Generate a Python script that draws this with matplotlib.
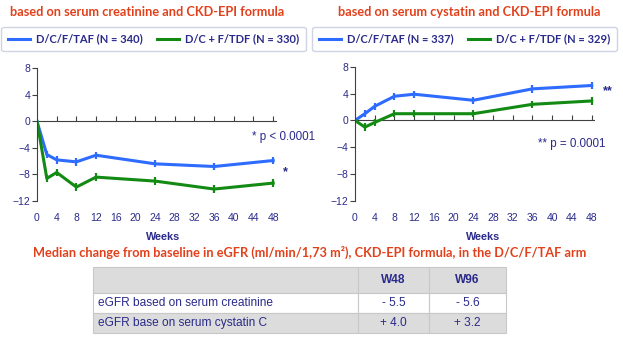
import matplotlib.pyplot as plt
from matplotlib.lines import Line2D

# data
weeks = [0, 2, 4, 8, 12, 24, 36, 48]
creat_taf = [0, -5.0, -5.8, -6.1, -5.1, -6.4, -6.8, -5.9]
creat_tdf = [0, -8.6, -7.7, -9.9, -8.4, -9.0, -10.2, -9.3]
cyst_taf = [0, 1.0, 2.1, 3.6, 3.9, 3.0, 4.7, 5.2]
cyst_tdf = [0, -1.0, -0.3, 1.0, 1.0, 1.0, 2.4, 2.9]
err = [0, 0.55, 0.55, 0.55, 0.55, 0.55, 0.55, 0.55]

xticks = list(range(0, 49, 4))
yticks = [-12, -8, -4, 0, 4, 8]

table_cols = ["", "W48", "W96"]
table_rows = [["eGFR based on serum creatinine", "- 5.5", "- 5.6"],
              ["eGFR base on serum cystatin C", "+ 4.0", "+ 3.2"]]

BLUE = "#2E6BFF"
GREEN = "#138A13"
NAVY = "#2A2A8A"
RED = "#E2401B"
W, H = 623, 337


def box(x0, y0, x1, y1):
    # pixel box (top-left origin) -> figure fraction rect
    return [x0 / W, 1 - y1 / H, (x1 - x0) / W, (y1 - y0) / H]


fig = plt.figure(figsize=(6.23, 3.37), dpi=100)
fig.patch.set_facecolor("white")


def panel(rect, taf, tdf):
    ax = fig.add_axes(rect)
    ax.errorbar(weeks, taf, yerr=err, color=BLUE, lw=2.2, elinewidth=1.6, capsize=0)
    ax.errorbar(weeks, tdf, yerr=err, color=GREEN, lw=2.2, elinewidth=1.6, capsize=0)
    ax.set_xlim(0, 48.7)
    ax.set_ylim(-12, 8)
    for s in ["top", "right", "bottom"]:
        ax.spines[s].set_visible(False)
    ax.spines["left"].set_color("#404040")
    ax.spines["left"].set_linewidth(0.8)
    ax.axhline(0, color="#404040", lw=0.8, zorder=0)
    ax.vlines(xticks[1:], 0, 0.75, color="#404040", lw=0.8, zorder=0)
    ax.set_yticks(yticks)
    ax.set_xticks(xticks)
    ax.tick_params(axis="y", length=3.5, width=0.8, color="#404040", labelsize=7.5,
                   labelcolor=NAVY, pad=1.5)
    ax.tick_params(axis="x", length=0, labelsize=7.5, labelcolor=NAVY, pad=8.5)
    for lab in ax.get_xticklabels() + ax.get_yticklabels():
        lab.set_family("Liberation Sans")
    return ax


ax1 = panel(box(37, 68.3, 37 + 48.7 * 4.92, 201), creat_taf, creat_tdf)
ax2 = panel(box(355, 66.7, 355 + 48.7 * 4.93, 201), cyst_taf, cyst_tdf)

# titles
fig.text(10 / W, 1 - 12 / H, "based on serum creatinine and CKD-EPI formula",
         color=RED, fontsize=9.2, fontweight="bold", family="Lato", va="center")
fig.text(338 / W, 1 - 12 / H, "based on serum cystatin and CKD-EPI formula",
         color=RED, fontsize=9.2, fontweight="bold", family="Lato", va="center")

# legends
for cx, n1, n2 in [(153.5, "340", "330"), (464.5, "337", "329")]:
    handles = [Line2D([], [], color=BLUE, lw=2.2), Line2D([], [], color=GREEN, lw=2.2)]
    labels = ["D/C/F/TAF (N = %s)" % n1, "D/C + F/TDF (N = %s)" % n2]
    leg = fig.legend(handles, labels, loc="center", ncol=2,
                     bbox_to_anchor=(cx / W, 1 - 39 / H),
                     frameon=True, fancybox=True, handlelength=2.0, handletextpad=0.5,
                     columnspacing=1.3, borderpad=0.6, borderaxespad=0,
                     prop={"family": "Lato", "weight": "bold", "size": 8.0})
    leg.get_frame().set_edgecolor("#C5C8DC")
    leg.get_frame().set_linewidth(1.0)
    for t in leg.get_texts():
        t.set_color(NAVY)

# significance notes
fig.text(315 / W, 1 - 137 / H, "* p < 0.0001", color=NAVY, fontsize=8.4,
         family="Liberation Sans", ha="right", va="center")
fig.text(285 / W, 1 - 172 / H, "*", color=NAVY, fontsize=9, fontweight="bold",
         family="Liberation Sans", ha="center", va="center")
fig.text(606 / W, 1 - 144 / H, "** p = 0.0001", color=NAVY, fontsize=8.4,
         family="Liberation Sans", ha="right", va="center")
fig.text(608 / W, 1 - 91 / H, "**", color=NAVY, fontsize=9, fontweight="bold",
         family="Liberation Sans", ha="center", va="center")

# x-axis titles
fig.text(163 / W, 1 - 237 / H, "Weeks", color=NAVY, fontsize=7.8, fontweight="bold",
         family="Liberation Sans", ha="center", va="center")
fig.text(483 / W, 1 - 237 / H, "Weeks", color=NAVY, fontsize=7.8, fontweight="bold",
         family="Liberation Sans", ha="center", va="center")

fig.text(310 / W, 1 - 252 / H,
         "Median change from baseline in eGFR (ml/min/1,73 m\u00b2), CKD-EPI formula, in the D/C/F/TAF arm",
         color=RED, fontsize=9.2, fontweight="bold", family="Lato", ha="center", va="center")

# table
tax = fig.add_axes(box(93, 267, 506, 333))
tax.axis("off")
tbl = tax.table(cellText=[table_cols] + table_rows, colWidths=[265, 71, 77],
                cellLoc="center", bbox=[0, 0, 1, 1])
tbl.auto_set_font_size(False)
heights = [0.4, 0.3, 0.3]
for (r, c), cell in tbl.get_celld().items():
    cell.set_height(heights[r])
    cell.set_edgecolor("#C8C8C8")
    cell.set_linewidth(0.8)
    cell.set_facecolor("white" if r == 1 else "#DCDCDC")
    txt = cell.get_text()
    txt.set_color(NAVY)
    txt.set_family("Liberation Sans")
    txt.set_fontsize(8.6)
    if r == 0:
        txt.set_fontweight("bold")
    if c == 0:
        txt.set_ha("left")
        cell.PAD = 0.02

fig.savefig("out.png", dpi=100)
